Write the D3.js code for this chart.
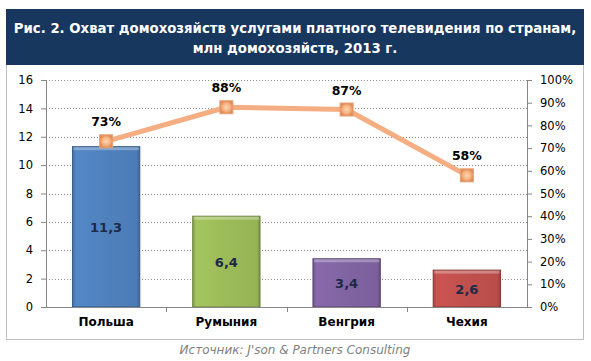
<!DOCTYPE html>
<html>
<head>
<meta charset="utf-8">
<script src="https://cdn.jsdelivr.net/npm/d3@7"></script>
<style>
  body { margin: 0; background: #fff; }
  text { font-family: "DejaVu Sans", Tahoma, sans-serif; }
</style>
</head>
<body>
<div id="vis"></div>
<script>
const FRAME_WIDTH = 591;
const FRAME_HEIGHT = 361;
const MARGINS = {left: 46, right: 64, top: 80, bottom: 54};

// data
const countries = ["Польша", "Румыния", "Венгрия", "Чехия"];
const households = [11.3, 6.4, 3.4, 2.6];       // mln households
const coverage = [0.73, 0.88, 0.87, 0.58];      // share of households
const barColors = ["#4f81bd", "#9bbb59", "#8064a2", "#c0504d"];
const leftTicks = [0, 2, 4, 6, 8, 10, 12, 14, 16];
const rightTicks = [0, 0.1, 0.2, 0.3, 0.4, 0.5, 0.6, 0.7, 0.8, 0.9, 1];
const titleLines = ["Рис. 2. Охват домохозяйств услугами платного телевидения по странам,",
                    "млн домохозяйств, 2013 г."];
const sourceText = "Источник: J'son & Partners Consulting";

const VIS_WIDTH = FRAME_WIDTH - MARGINS.left - MARGINS.right;
const VIS_HEIGHT = FRAME_HEIGHT - MARGINS.top - MARGINS.bottom;

const svg = d3.select("#vis")
  .append("svg")
    .attr("width", FRAME_WIDTH)
    .attr("height", FRAME_HEIGHT);

const defs = svg.append("defs");

// frame + title band
svg.append("rect")
  .attr("x", 6.5).attr("y", 9.5)
  .attr("width", 577).attr("height", 330)
  .attr("fill", "#fff")
  .attr("stroke", "#bfbfbf");

svg.append("rect")
  .attr("x", 6).attr("y", 9)
  .attr("width", 578).attr("height", 56)
  .attr("fill", "#17375e");

const title = svg.selectAll(".title")
  .data(titleLines)
  .enter()
  .append("text")
    .attr("class", "title")
    .attr("x", 295)
    .attr("y", (d, i) => 33 + i * 20)
    .attr("text-anchor", "middle")
    .attr("fill", "#fff")
    .attr("font-family", "DejaVu Sans Condensed, DejaVu Sans, sans-serif")
    .attr("font-weight", "bold")
    .attr("font-size", "14px")
    .text(d => d);

// squeeze first line to the width it has in the picture
const firstLen = title.nodes()[0].getComputedTextLength();
const fitScale = 563 / firstLen;
title.attr("font-size", Math.min(16, 14 * fitScale) + "px");

const g = svg.append("g")
  .attr("transform", "translate(" + MARGINS.left + "," + MARGINS.top + ")");

// scales
const X_SCALE = d3.scaleBand()
  .domain(countries)
  .range([0, VIS_WIDTH])
  .paddingInner(0.44)
  .paddingOuter(0.22);

const Y_SCALE = d3.scaleLinear()
  .domain([0, 16])
  .range([VIS_HEIGHT, 0]);

const Y2_SCALE = d3.scaleLinear()
  .domain([0, 1])
  .range([VIS_HEIGHT, 0]);

// dotted gridlines
g.selectAll(".grid")
  .data(leftTicks.filter(d => d > 0))
  .enter()
  .append("line")
    .attr("x1", 0).attr("x2", VIS_WIDTH)
    .attr("y1", d => Math.round(Y_SCALE(d)) + 0.5)
    .attr("y2", d => Math.round(Y_SCALE(d)) + 0.5)
    .attr("stroke", "#8c8c8c")
    .attr("stroke-dasharray", "1,2");

// bar gradients (bevelled look)
barColors.forEach((c, i) => {
  const grad = defs.append("linearGradient")
    .attr("id", "bar" + i)
    .attr("x1", "0").attr("x2", "1").attr("y1", "0").attr("y2", "0");
  const base = d3.color(c);
  grad.append("stop").attr("offset", "0%").attr("stop-color", base.darker(0.5));
  grad.append("stop").attr("offset", "5%").attr("stop-color", base.brighter(0.15));
  grad.append("stop").attr("offset", "50%").attr("stop-color", base);
  grad.append("stop").attr("offset", "95%").attr("stop-color", base.darker(0.1));
  grad.append("stop").attr("offset", "100%").attr("stop-color", base.darker(0.7));
});

const markerGrad = defs.append("radialGradient").attr("id", "mk");
markerGrad.append("stop").attr("offset", "0%").attr("stop-color", "#fcd5b0");
markerGrad.append("stop").attr("offset", "60%").attr("stop-color", "#f7b484");
markerGrad.append("stop").attr("offset", "100%").attr("stop-color", "#e08a55");

// bars
g.selectAll(".bar")
  .data(households)
  .enter()
  .append("rect")
    .attr("class", "bar")
    .attr("x", (d, i) => X_SCALE(countries[i]))
    .attr("y", d => Y_SCALE(d))
    .attr("width", X_SCALE.bandwidth())
    .attr("height", d => VIS_HEIGHT - Y_SCALE(d))
    .attr("fill", (d, i) => "url(#bar" + i + ")")
    .attr("stroke", (d, i) => d3.color(barColors[i]).darker(1))
    .attr("stroke-width", 1);

// top highlight on bars
g.selectAll(".barTop")
  .data(households)
  .enter()
  .append("rect")
    .attr("x", (d, i) => X_SCALE(countries[i]) + 1)
    .attr("y", d => Y_SCALE(d) + 0.5)
    .attr("width", X_SCALE.bandwidth() - 2)
    .attr("height", 3)
    .attr("fill", "#fff")
    .attr("opacity", 0.3);

// bar values
g.selectAll(".barLabel")
  .data(households)
  .enter()
  .append("text")
    .attr("x", (d, i) => X_SCALE(countries[i]) + X_SCALE.bandwidth() / 2)
    .attr("y", d => (Y_SCALE(d) + VIS_HEIGHT) / 2 + 5)
    .attr("text-anchor", "middle")
    .attr("font-weight", "bold")
    .attr("font-size", "13px")
    .attr("fill", "#1c2a48")
    .text(d => d3.format(".1f")(d).replace(".", ","));

// axes
const axisColor = "#868686";

const leftAxis = g.append("g")
  .call(d3.axisLeft(Y_SCALE).tickValues(leftTicks).tickSize(5).tickPadding(8));

const rightAxis = g.append("g")
  .attr("transform", "translate(" + VIS_WIDTH + ",0)")
  .call(d3.axisRight(Y2_SCALE).tickValues(rightTicks).tickSize(5).tickPadding(8)
        .tickFormat(d3.format(".0%")));

const bottomAxis = g.append("g")
  .attr("transform", "translate(0," + VIS_HEIGHT + ")")
  .call(d3.axisBottom(X_SCALE).tickSize(0).tickPadding(10));

[leftAxis, rightAxis, bottomAxis].forEach(a => {
  a.select(".domain").attr("stroke", axisColor);
  a.selectAll(".tick line").attr("stroke", axisColor);
  a.selectAll("text")
    .attr("font-family", "DejaVu Sans, sans-serif")
    .attr("font-size", "11.5px")
    .attr("fill", "#000");
});
leftAxis.select(".domain").attr("d", "M0.5,0V" + VIS_HEIGHT);
rightAxis.select(".domain").attr("d", "M0.5,0V" + VIS_HEIGHT);
bottomAxis.select(".domain").attr("d", "M0," + 0.5 + "H" + VIS_WIDTH);
bottomAxis.selectAll("text").attr("font-weight", "bold").attr("font-size", "12px");

// category separator ticks
const step = X_SCALE.step();
g.selectAll(".sep")
  .data(countries.slice(1))
  .enter()
  .append("line")
    .attr("x1", d => Math.round(X_SCALE(d) - (step - X_SCALE.bandwidth()) / 2) + 0.5)
    .attr("x2", d => Math.round(X_SCALE(d) - (step - X_SCALE.bandwidth()) / 2) + 0.5)
    .attr("y1", VIS_HEIGHT)
    .attr("y2", VIS_HEIGHT + 5)
    .attr("stroke", axisColor);

// coverage line
const line = d3.line()
  .x((d, i) => X_SCALE(countries[i]) + X_SCALE.bandwidth() / 2)
  .y(d => Y2_SCALE(d));

g.append("path")
  .datum(coverage)
  .attr("d", line)
  .attr("fill", "none")
  .attr("stroke", "#f5ad82")
  .attr("stroke-width", 5)
  .attr("stroke-linejoin", "round");

g.selectAll(".marker")
  .data(coverage)
  .enter()
  .append("rect")
    .attr("x", (d, i) => X_SCALE(countries[i]) + X_SCALE.bandwidth() / 2 - 6.5)
    .attr("y", d => Y2_SCALE(d) - 6.5)
    .attr("width", 13)
    .attr("height", 13)
    .attr("fill", "url(#mk)")
    .attr("stroke", "#e6a074")
    .attr("stroke-width", 1);

g.selectAll(".pctLabel")
  .data(coverage)
  .enter()
  .append("text")
    .attr("x", (d, i) => X_SCALE(countries[i]) + X_SCALE.bandwidth() / 2)
    .attr("y", d => Y2_SCALE(d) - 15)
    .attr("text-anchor", "middle")
    .attr("font-weight", "bold")
    .attr("font-size", "12.5px")
    .attr("fill", "#000")
    .text(d => d3.format(".0%")(d));

// source
svg.append("text")
  .attr("x", 295)
  .attr("y", 354)
  .attr("text-anchor", "middle")
  .attr("font-style", "italic")
  .attr("font-size", "12px")
  .attr("fill", "#7f7f7f")
  .text(sourceText);
</script>
</body>
</html>
